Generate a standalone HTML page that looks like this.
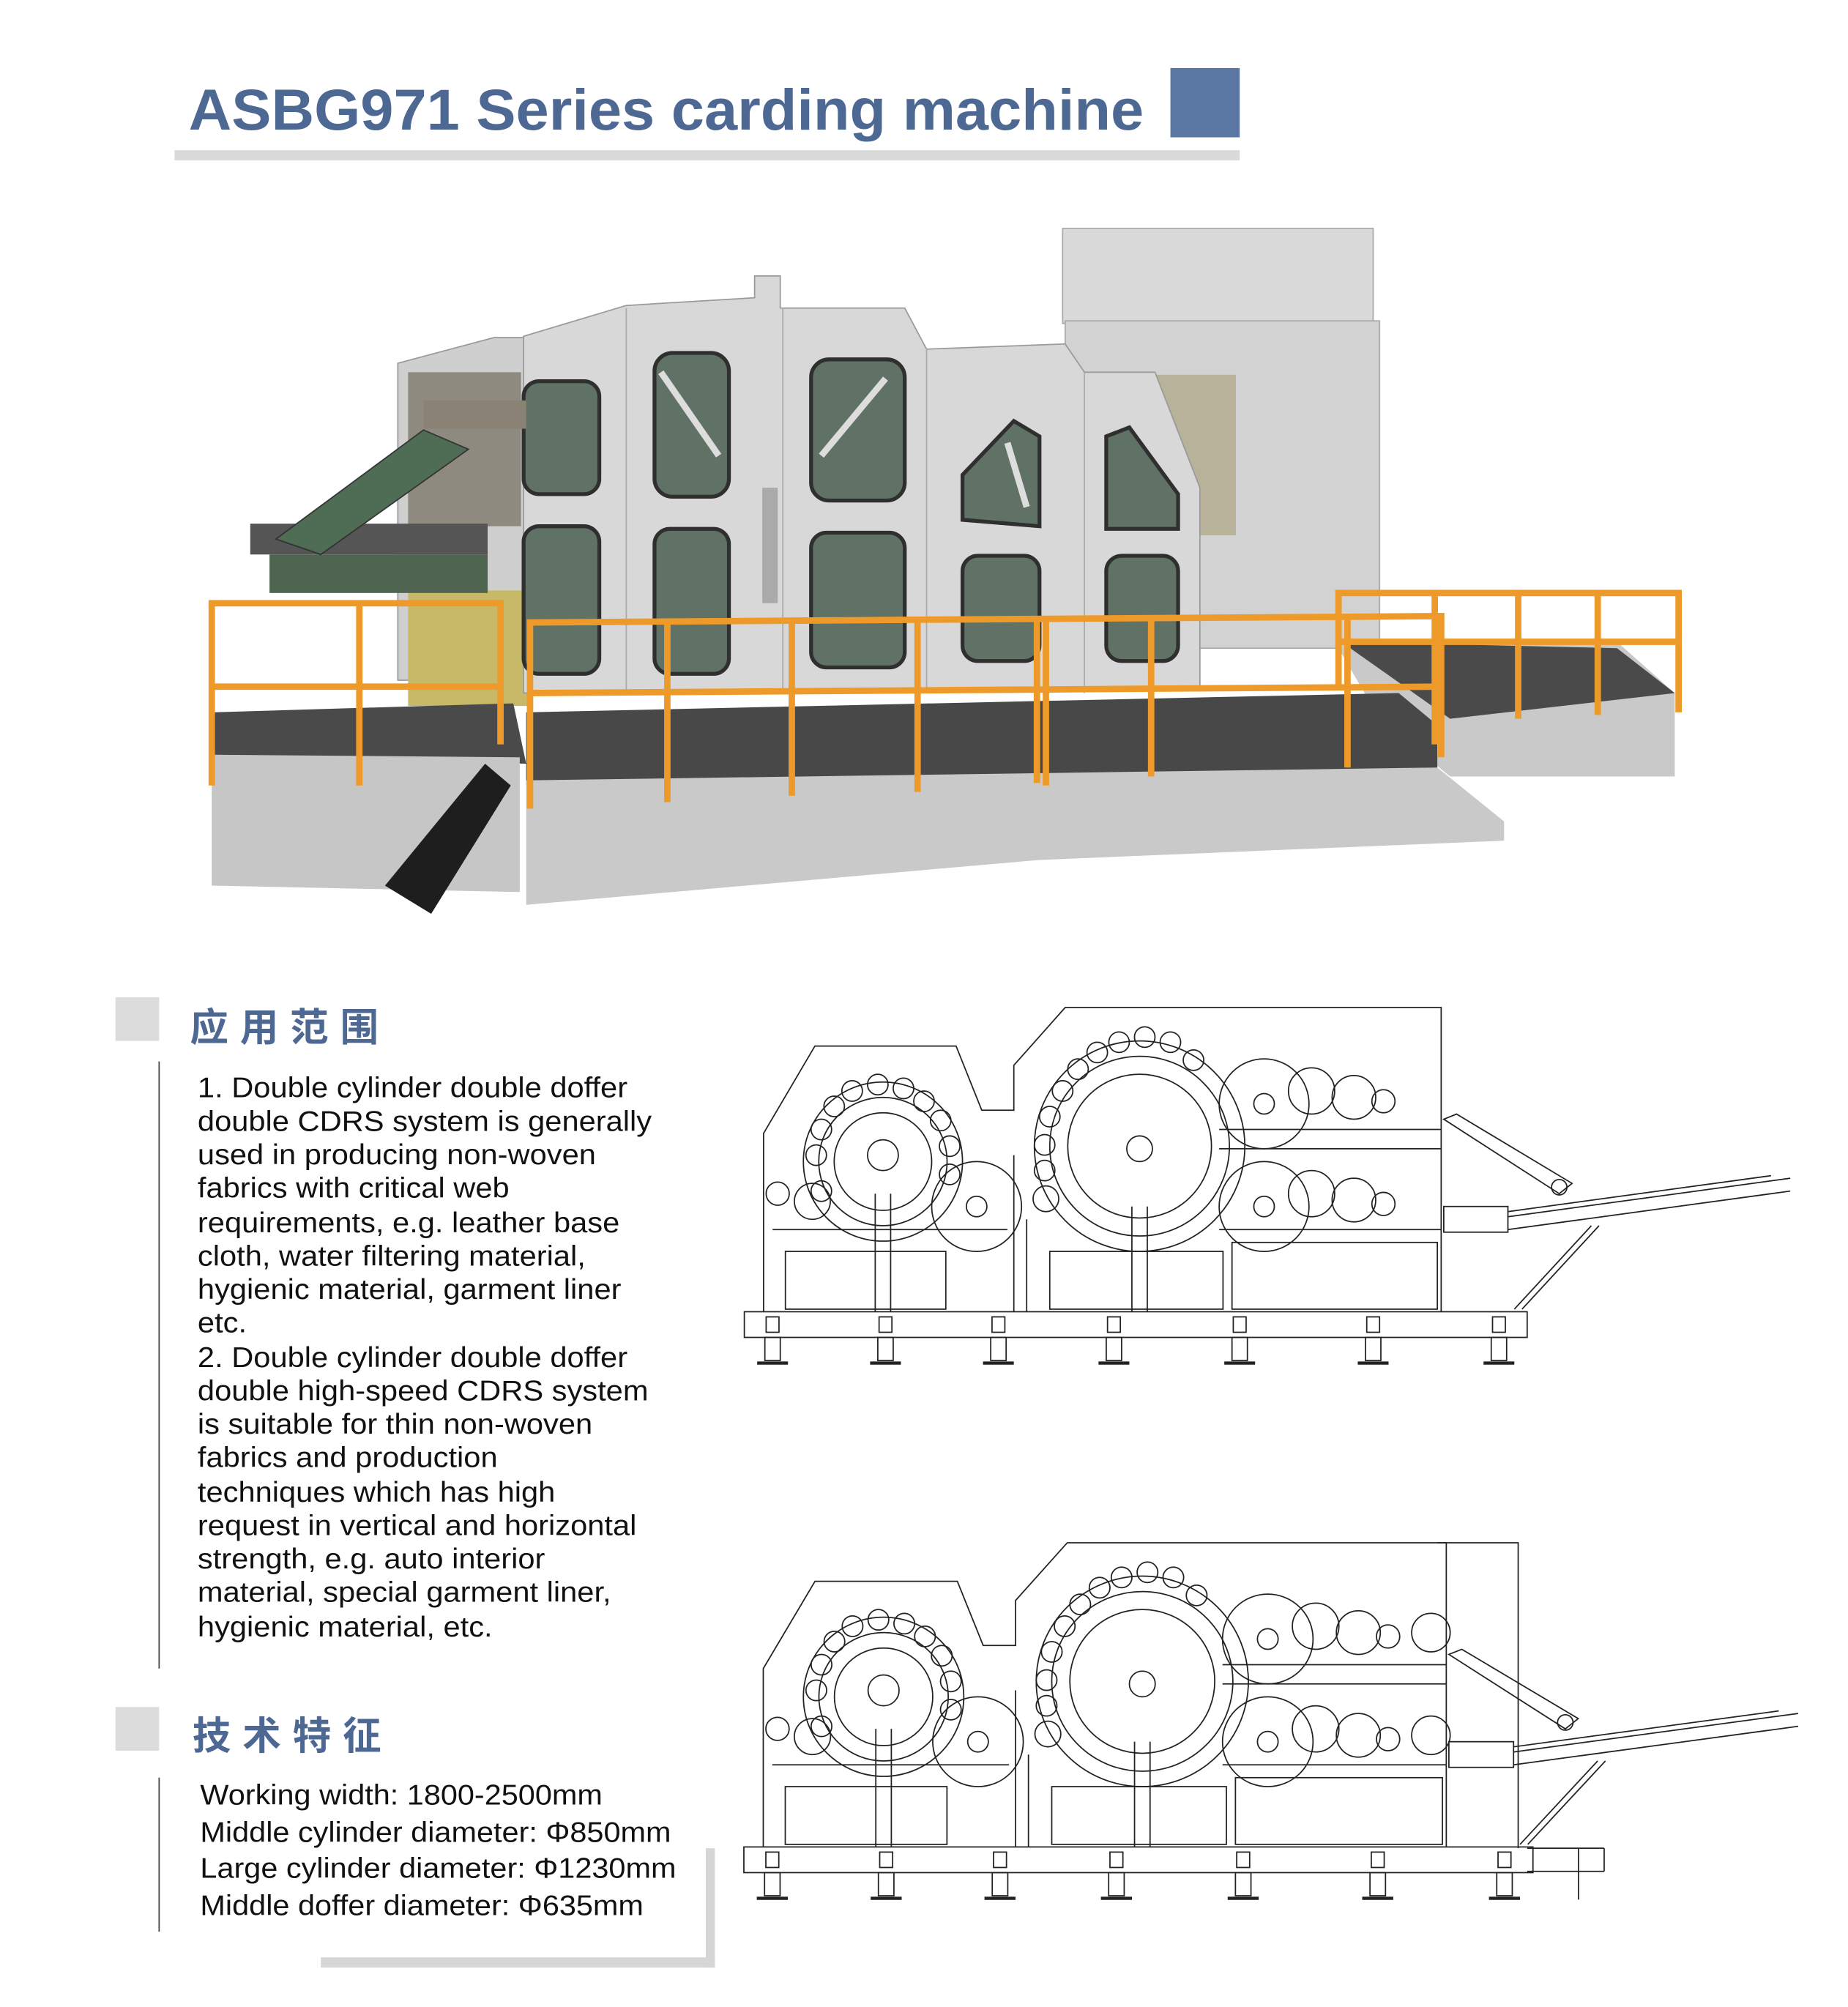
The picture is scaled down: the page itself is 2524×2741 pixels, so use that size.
<!DOCTYPE html>
<html><head><meta charset="utf-8"><style>
html,body{margin:0;padding:0;background:#fff;}
svg{display:block;}
text{font-family:"Liberation Sans","Noto Sans CJK SC",sans-serif;}
</style></head><body>
<svg xmlns="http://www.w3.org/2000/svg" width="2524" height="2741" viewBox="0 0 1440 1563.7" preserveAspectRatio="none">
<rect width="1440" height="1564" fill="#fff"/>
<!-- Title -->
<text x="147" y="101" font-size="45" font-weight="bold" fill="#4d6893" transform="translate(147,0) scale(1.03,1) translate(-147,0)">ASBG971 Series carding machine</text>
<rect x="912" y="53" width="54" height="54" fill="#5a77a3"/>
<rect x="136" y="117" width="830" height="8" fill="#dadada"/>

<!-- Photo -->
<g>
<rect x="828" y="178" width="242" height="74" fill="#d9d9d9" stroke="#aaa"/>
<rect x="830" y="250" width="245" height="255" fill="#d2d2d2" stroke="#aaa"/>
<rect x="888" y="292" width="75" height="125" fill="#b8b29a"/>
<polygon points="1040,500 1260,500 1305,540 1305,605 1130,605 1075,560" fill="#c9c9c9"/>
<polygon points="1045,500 1260,505 1305,540 1130,560" fill="#4a4a4a"/>
<polygon points="310,283 385,263 410,263 410,530 310,530" fill="#cfcfcf" stroke="#999"/>
<rect x="318" y="290" width="88" height="120" fill="#8e8a80"/>
<rect x="318" y="460" width="95" height="90" fill="#c8b968"/>
<polygon points="408,262 488,238 588,232 588,215 608,215 608,240 705,240 722,272 830,268 845,290 900,290 935,380 935,535 408,540" fill="#d8d8d8" stroke="#9a9a9a"/>
<line x1="488" y1="240" x2="488" y2="540" stroke="#aaa"/>
<line x1="610" y1="240" x2="610" y2="540" stroke="#aaa"/>
<line x1="722" y1="272" x2="722" y2="540" stroke="#aaa"/>
<line x1="845" y1="290" x2="845" y2="540" stroke="#aaa"/>
<rect x="594" y="380" width="12" height="90" fill="#aaa"/>
<g fill="#5f7265" stroke="#2f2f2f" stroke-width="3">
<rect x="408" y="297" width="59" height="88" rx="12"/>
<rect x="510" y="275" width="58" height="112" rx="14"/>
<rect x="632" y="280" width="73" height="110" rx="14"/>
<polygon points="750,405 750,370 790,328 810,340 810,410"/>
<polygon points="862,412 862,340 880,333 918,385 918,412"/>
<rect x="408" y="410" width="59" height="115" rx="12"/>
<rect x="510" y="412" width="58" height="113" rx="12"/>
<rect x="632" y="415" width="73" height="105" rx="12"/>
<rect x="750" y="433" width="60" height="82" rx="12"/>
<rect x="862" y="433" width="56" height="82" rx="12"/>
</g>
<g stroke="#ddd" stroke-width="5"><line x1="515" y1="290" x2="560" y2="355"/><line x1="640" y1="355" x2="690" y2="295"/><line x1="785" y1="345" x2="800" y2="395"/></g>
<rect x="195" y="408" width="185" height="24" fill="#555"/>
<rect x="210" y="432" width="170" height="30" fill="#4f6552"/>
<polygon points="215,420 330,335 365,350 250,432" fill="#4e6d54" stroke="#333"/>
<rect x="330" y="312" width="80" height="22" fill="#8a8275"/>
<polygon points="165,555 400,548 410,595 165,590" fill="#4a4a4a"/>
<polygon points="410,555 1090,540 1120,565 1120,605 410,612" fill="#484848"/>
<polygon points="165,588 405,590 405,695 165,690" fill="#c6c6c6"/>
<polygon points="410,608 1120,598 1172,640 1172,655 810,670 410,705" fill="#c9c9c9"/>
<polygon points="300,690 378,595 398,612 336,712" fill="#1e1e1e"/>
<g stroke="#ee9a2a" stroke-width="5" fill="none">
<polyline points="165,612 165,470 390,470 390,580"/>
<line x1="165" y1="535" x2="390" y2="535"/>
<line x1="280" y1="470" x2="280" y2="612"/>
<polyline points="413,630 413,485 1123,480 1123,590"/>
<line x1="413" y1="540" x2="1123" y2="535"/>
<line x1="520" y1="485" x2="520" y2="625"/><line x1="617" y1="485" x2="617" y2="620"/><line x1="715" y1="485" x2="715" y2="617"/><line x1="808" y1="483" x2="808" y2="610"/><line x1="815" y1="483" x2="815" y2="612"/><line x1="897" y1="483" x2="897" y2="605"/><line x1="1050" y1="480" x2="1050" y2="598"/>
<polyline points="1043,535 1043,462 1308,462 1308,555"/>
<line x1="1043" y1="500" x2="1308" y2="500"/>
<line x1="1118" y1="462" x2="1118" y2="580"/><line x1="1183" y1="462" x2="1183" y2="560"/><line x1="1245" y1="462" x2="1245" y2="557"/>
</g>
</g>

<!-- Section 1 -->
<rect x="90" y="777" width="34" height="34" fill="#dcdcdc"/>
<text x="148" y="811" font-size="30" font-weight="bold" fill="#4d6893" letter-spacing="9">应用范围</text>
<line x1="124" y1="827" x2="124" y2="1300" stroke="#444" stroke-width="1"/>
<g font-size="22" fill="#111" transform="translate(154,0) scale(1.08,1) translate(-154,0)">
<text x="154" y="855">1. Double cylinder double doffer</text>
<text x="154" y="881">double CDRS system is generally</text>
<text x="154" y="907">used in producing non-woven</text>
<text x="154" y="933">fabrics with critical web</text>
<text x="154" y="960">requirements, e.g. leather base</text>
<text x="154" y="986">cloth, water filtering material,</text>
<text x="154" y="1012">hygienic material, garment liner</text>
<text x="154" y="1038">etc.</text>
<text x="154" y="1065">2. Double cylinder double doffer</text>
<text x="154" y="1091">double high-speed CDRS system</text>
<text x="154" y="1117">is suitable for thin non-woven</text>
<text x="154" y="1143">fabrics and production</text>
<text x="154" y="1170">techniques which has high</text>
<text x="154" y="1196">request in vertical and horizontal</text>
<text x="154" y="1222">strength, e.g. auto interior</text>
<text x="154" y="1248">material, special garment liner,</text>
<text x="154" y="1275">hygienic material, etc.</text>
</g>

<!-- Section 2 -->
<rect x="90" y="1330" width="34" height="34" fill="#dcdcdc"/>
<text x="150" y="1363" font-size="30" font-weight="bold" fill="#4d6893" letter-spacing="9">技术特征</text>
<line x1="124" y1="1385" x2="124" y2="1505" stroke="#444" stroke-width="1"/>
<g font-size="22.3" fill="#111" transform="translate(156,0) scale(1.06,1) translate(-156,0)">
<text x="156" y="1406">Working width: 1800-2500mm</text>
<text x="156" y="1435">Middle cylinder diameter: Φ850mm</text>
<text x="156" y="1463">Large cylinder diameter: Φ1230mm</text>
<text x="156" y="1492">Middle doffer diameter: Φ635mm</text>
</g>
<rect x="550" y="1440" width="7" height="93" fill="#d6d6d6"/>
<rect x="250" y="1525" width="307" height="8" fill="#d6d6d6"/>

<defs>
<g id="drw" fill="none" stroke="#222" stroke-width="1">
<polyline points="595,1022 595,883 635,815 745,815 765,865 790,865 790,830 830,785 1123,785 1123,1022"/>
<circle cx="688" cy="905" r="62"/><circle cx="688" cy="905" r="50"/><circle cx="688" cy="905" r="38"/>
<circle cx="688" cy="900" r="12"/>
<g>
<circle cx="640" cy="880" r="8"/><circle cx="636" cy="900" r="8"/><circle cx="650" cy="862" r="8"/><circle cx="664" cy="850" r="8"/><circle cx="684" cy="845" r="8"/><circle cx="704" cy="848" r="8"/><circle cx="720" cy="858" r="8"/><circle cx="733" cy="873" r="8"/><circle cx="740" cy="893" r="8"/><circle cx="740" cy="915" r="8"/><circle cx="640" cy="928" r="8"/>
</g>
<circle cx="633" cy="936" r="14"/><circle cx="606" cy="930" r="9"/>
<circle cx="761" cy="940" r="35"/><circle cx="761" cy="940" r="8"/>
<circle cx="888" cy="893" r="82"/><circle cx="888" cy="893" r="70"/><circle cx="888" cy="893" r="56"/><circle cx="888" cy="895" r="10"/>
<g>
<circle cx="828" cy="850" r="8"/><circle cx="840" cy="833" r="8"/><circle cx="855" cy="820" r="8"/><circle cx="872" cy="812" r="8"/><circle cx="892" cy="808" r="8"/><circle cx="912" cy="812" r="8"/><circle cx="930" cy="826" r="8"/><circle cx="818" cy="870" r="8"/><circle cx="814" cy="892" r="8"/><circle cx="814" cy="912" r="8"/><circle cx="815" cy="934" r="10"/>
</g>
<circle cx="985" cy="860" r="35"/><circle cx="985" cy="860" r="8"/>
<circle cx="985" cy="940" r="35"/><circle cx="985" cy="940" r="8"/>
<circle cx="1022" cy="850" r="18"/><circle cx="1055" cy="855" r="17"/><circle cx="1078" cy="858" r="9"/>
<circle cx="1022" cy="930" r="18"/><circle cx="1055" cy="935" r="17"/><circle cx="1078" cy="938" r="9"/>
<polyline points="950,880 1123,880"/><polyline points="950,895 1123,895"/>
<polyline points="950,958 1123,958"/>
<polyline points="602,958 785,958"/>
<rect x="612" y="975" width="125" height="45"/><rect x="818" y="975" width="135" height="45"/>
<rect x="960" y="968" width="160" height="52"/>
<line x1="682" y1="930" x2="682" y2="1022"/><line x1="694" y1="930" x2="694" y2="1022"/>
<line x1="882" y1="940" x2="882" y2="1022"/><line x1="894" y1="940" x2="894" y2="1022"/>
<line x1="790" y1="900" x2="790" y2="1022"/><line x1="800" y1="950" x2="800" y2="1022"/>
<polygon points="1125,872 1135,868 1225,922 1215,930"/>
<circle cx="1215" cy="925" r="6"/>
<rect x="1125" y="940" width="50" height="20"/>
<polyline points="1175,948 1395,918"/><polyline points="1175,958 1395,928"/><polyline points="1175,944 1380,916"/>
<line x1="1180" y1="1020" x2="1240" y2="955"/><line x1="1186" y1="1020" x2="1246" y2="955"/>
<rect x="580" y="1022" width="610" height="20"/>
<g>
<rect x="597" y="1026" width="10" height="12"/><rect x="685" y="1026" width="10" height="12"/><rect x="773" y="1026" width="10" height="12"/><rect x="863" y="1026" width="10" height="12"/><rect x="961" y="1026" width="10" height="12"/><rect x="1065" y="1026" width="10" height="12"/><rect x="1163" y="1026" width="10" height="12"/>
</g>
<g>
<rect x="596" y="1042" width="12" height="18"/><rect x="684" y="1042" width="12" height="18"/><rect x="772" y="1042" width="12" height="18"/><rect x="862" y="1042" width="12" height="18"/><rect x="960" y="1042" width="12" height="18"/><rect x="1064" y="1042" width="12" height="18"/><rect x="1162" y="1042" width="12" height="18"/>
</g>
<g stroke-width="2.5">
<line x1="590" y1="1062" x2="614" y2="1062"/><line x1="678" y1="1062" x2="702" y2="1062"/><line x1="766" y1="1062" x2="790" y2="1062"/><line x1="856" y1="1062" x2="880" y2="1062"/><line x1="954" y1="1062" x2="978" y2="1062"/><line x1="1058" y1="1062" x2="1082" y2="1062"/><line x1="1156" y1="1062" x2="1180" y2="1062"/>
</g>
</g>
</defs>
<use href="#drw"/>
<use href="#drw" transform="translate(-5,417) scale(1.008,1)"/>
<g fill="none" stroke="#222" stroke-width="1">
<polyline points="1120,1202 1183,1202 1183,1440"/>
<line x1="1190" y1="1440" x2="1250" y2="1440"/><line x1="1190" y1="1458" x2="1250" y2="1458"/>
<line x1="1250" y1="1440" x2="1250" y2="1458"/>
<circle cx="1115" cy="1272" r="15"/><circle cx="1115" cy="1352" r="15"/>
<line x1="1230" y1="1440" x2="1230" y2="1480"/>
</g>
</svg>
</body></html>
